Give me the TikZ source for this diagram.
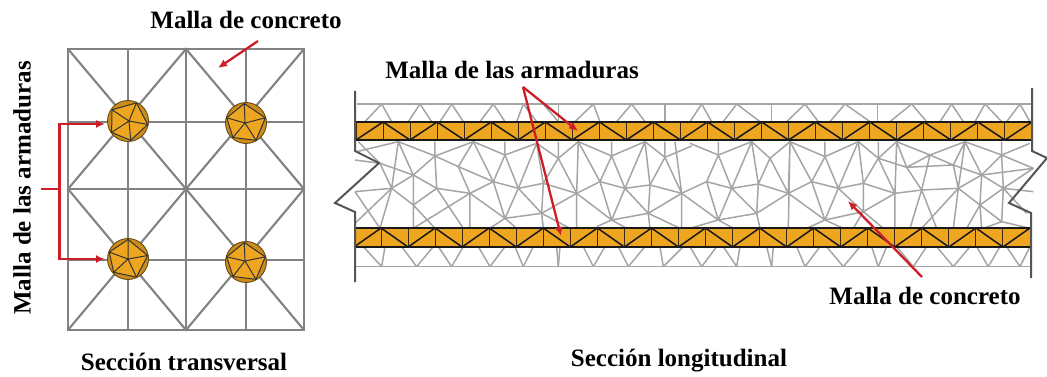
\documentclass[tikz,border=0pt]{standalone}
\usepackage{fontspec}
\setmainfont{Liberation Serif}
\usetikzlibrary{arrows.meta}
\definecolor{gridgray}{RGB}{130,130,130}
\definecolor{meshgray}{RGB}{165,165,165}
\definecolor{rebar}{RGB}{238,165,32}
\definecolor{redline}{RGB}{205,30,40}
\definecolor{wallgray}{RGB}{85,85,85}
\definecolor{trussdark}{RGB}{60,40,15}
\tikzset{
  grid line/.style={draw=gridgray,line width=2.1pt},
  mesh line/.style={draw=meshgray,line width=1.5pt,line join=round},
  wall line/.style={draw=wallgray,line width=2pt,line join=miter},
  truss vertical/.style={draw=trussdark,line width=1pt},
  truss diagonal/.style={draw=black!90,line width=1.5pt},
  red line/.style={draw=redline,line width=2.3pt},
  red arrow/.style={red line,-{Latex[length=9pt,width=8pt]}},
  caption/.style={font=\fontsize{25}{28}\selectfont\bfseries,text=black,inner sep=0pt},
}
\newcommand{\rebarcircle}[5]{%
  \begin{scope}[shift={(#1,#2)}]
    \fill[rebar!85!black,draw=black!60!rebar,line width=.8pt] (0,0) circle (20.5);
    \draw[fill=rebar,draw=black!80,line width=1pt,line join=round]
      (#3:20) -- (#3+72:19.5) -- (#3+135:20) -- (#3+205:19.5) -- (#3+285:20) -- cycle;
    \draw[black!80,line width=1pt] (#4,#5) -- (#3:20) (#4,#5) -- (#3+72:19.5) (#4,#5) -- (#3+135:20) (#4,#5) -- (#3+205:19.5) (#4,#5) -- (#3+285:20);
  \end{scope}}
\newcommand{\trussbar}[3]{% x0, ytop, ybot
  \fill[rebar] (#1,#2) rectangle (#1+676,#3);
  \foreach \k in {0,...,25}{\draw[truss vertical] (#1+\k*27.04,#2) -- (#1+\k*27.04,#3);}
  \foreach \k in {0,2,...,24}{\draw[truss diagonal] (#1+\k*27.04,#3) -- (#1+\k*27.04+27.04,#2);}
  \foreach \k in {1,3,...,23}{\draw[truss diagonal] (#1+\k*27.04,#2) -- (#1+\k*27.04+27.04,#3);}
  \draw[black!90,line width=1.5pt] (#1,#2) -- (#1+676,#2) (#1,#3) -- (#1+676,#3);}
\begin{document}
\begin{tikzpicture}[x=1pt,y=-1pt]
\useasboundingbox (0,0) rectangle (1047,377);
\fill[white] (0,0) rectangle (1047,377);
% ---- cross section grid
\draw[grid line,line width=2.6pt] (68,49) rectangle (304,330);
\draw[grid line] (128,49) -- (128,330) (186,49) -- (186,330) (246,49) -- (246,330);
\draw[grid line] (68,189) -- (304,189) (68,122) -- (304,122) (68,260) -- (304,260);
\draw[grid line] (68,49) -- (186,189) -- (304,49) (68,330) -- (186,189) -- (304,330);
\draw[grid line] (186,49) -- (68,189) -- (186,330) -- (304,189) -- cycle;
\rebarcircle{128}{121}{10}{1}{0}
\rebarcircle{246}{123}{60}{-1}{0}
\rebarcircle{128}{259}{65}{0}{0}
\rebarcircle{246}{262}{60}{-1}{-1}
% ---- long section mesh (coordinates of the two blown-up halves)
\begin{scope}[shift={(330,80)},x=.3333pt,y=-.3333pt]
\draw[mesh line,line width=1.6pt] (80,72) -- (1080,72) (75,560) -- (1080,560);
\foreach \a/\b in {155/105,155/185,270/235,270/305,365/330,365/400,490/450,490/525,580/560,580/620,685/685,790/735,790/810,905/860,905/945,1005/1005,640/685}{\draw[mesh line] (\a,72) -- (\b,125);}
\foreach \a/\b in {155/100,155/165,260/215,260/310,365/325,365/400,480/445,480/525,580/555,580/610,685/680,685/690,790/760,790/825,895/865,895/945,1000/990,1000/1060}{\draw[mesh line] (\a,560) -- (\b,500);}
\draw[mesh line] (80,215) -- (205,185) -- (315,228) -- (430,185) -- (525,225) -- (620,190) -- (685,235) -- (745,185) -- (845,228) -- (945,185) -- (1005,232) -- (1085,198);
\draw[mesh line] (75,240) -- (150,250) -- (250,285) -- (320,325) -- (420,340) -- (490,305);
\draw[mesh line] (315,228) -- (385,260) -- (490,305) -- (565,325) -- (640,310) -- (740,340) -- (810,305) -- (885,325) -- (960,315) -- (1055,340);
\draw[mesh line] (75,335) -- (185,325) -- (250,285) -- (315,228);
\draw[mesh line] (205,185) -- (185,325) (205,185) -- (250,285) (150,250) -- (185,325) (85,185) -- (150,250);
\draw[mesh line] (315,185) -- (315,228) -- (320,325) -- (250,375) -- (185,325) -- (75,430) (185,325) -- (150,445) (75,335) -- (150,445);
\draw[mesh line] (250,285) -- (250,445) (250,375) -- (315,445) (320,325) -- (400,445) (420,340) -- (250,445);
\draw[mesh line] (430,185) -- (385,260) -- (420,340) -- (420,445) (430,185) -- (490,305) -- (525,415) -- (420,340);
\draw[mesh line] (525,185) -- (525,225) -- (490,305) (525,225) -- (565,325) -- (525,415) -- (480,445) (525,415) -- (635,400) -- (740,340);
\draw[mesh line] (620,190) -- (565,325) -- (635,400) -- (640,445) (620,190) -- (640,310) -- (635,400) (525,415) -- (560,445);
\draw[mesh line] (685,185) -- (685,235) -- (640,310) (685,235) -- (740,340) (745,185) -- (740,340) -- (740,445) (635,400) -- (720,445);
\draw[mesh line] (745,185) -- (810,305) -- (845,228) -- (885,325) -- (945,185) -- (960,315) -- (955,400) (845,185) -- (845,228) (810,305) -- (845,420) -- (885,325) (740,340) -- (845,420) -- (955,400) -- (1055,340) (800,440) -- (845,420) -- (890,445) (955,400) -- (960,445) (955,400) -- (1050,445) (885,325) -- (955,400);
\draw[mesh line] (1005,185) -- (1005,232) -- (960,315) (1005,232) -- (1055,340) -- (1055,445) (1035,185) -- (1055,340);
\end{scope}
\begin{scope}[shift={(690,80)},x=.3333pt,y=-.3333pt]
\draw[mesh line,line width=1.6pt] (0,72) -- (1025,72) (0,560) -- (1025,560);
\foreach \a/\b in {35/0,35/65,140/100,140/210,245/245,345/290,345/385,465/420,465/540,562/562,665/600,665/710,785/750,785/820,885/855,885/935,990/950,990/1020}{\draw[mesh line] (\a,72) -- (\b,125);}
\foreach \a/\b in {35/0,35/80,140/100,140/150,245/230,245/250,345/320,345/390,460/410,460/510,565/545,565/590,670/620,670/710,790/740,790/840,895/860,895/930,990/950,990/1020}{\draw[mesh line] (\a,560) -- (\b,500);}
\draw[mesh line] (0,190) -- (85,225) -- (185,185) -- (240,235) -- (300,185) -- (405,230) -- (505,185) -- (565,235) -- (620,185) -- (720,225) -- (825,185) -- (935,225) -- (1020,190);
\draw[mesh line] (-25,340) -- (50,305) -- (125,325) -- (205,312) -- (295,340) -- (365,305) -- (445,325) -- (520,310) -- (615,340) -- (695,330) -- (805,325) -- (875,285);
\draw[mesh line] (85,185) -- (85,225) -- (50,305) -- (85,420) -- (125,325) -- (185,185) -- (205,312) -- (200,400) (85,225) -- (125,325) -- (200,400) -- (295,340) (240,235) -- (205,312) (240,235) -- (295,340) -- (300,185) -- (295,445) (85,420) -- (200,400) -- (295,340) (-25,340) -- (85,420) (85,420) -- (0,445) (85,420) -- (130,445) (200,400) -- (210,445);
\draw[mesh line] (300,185) -- (365,305) -- (405,230) -- (445,325) -- (505,185) -- (520,310) -- (520,395) (405,185) -- (405,230) (365,305) -- (405,420) -- (445,325) (295,340) -- (405,420) -- (520,395) -- (615,340) (350,445) -- (405,420) -- (460,445) (565,185) -- (565,235) -- (520,310) (520,395) -- (490,445) (520,395) -- (580,445) (445,325) -- (520,395);
\draw[mesh line] (565,235) -- (650,262) -- (790,255) -- (875,285) -- (1030,265) (565,235) -- (615,340) -- (620,185) (615,340) -- (615,445) (620,185) -- (650,262) -- (695,330) -- (720,225) -- (650,262) (720,225) -- (790,255) -- (805,325) -- (825,185) (790,255) -- (825,185) (825,185) -- (875,285) -- (870,375) -- (805,325) -- (790,445) (695,330) -- (740,445) (695,330) -- (660,445) (805,325) -- (695,445);
\draw[mesh line] (935,185) -- (935,225) -- (875,285) -- (940,325) -- (935,225) -- (1030,265) -- (940,325) -- (1030,335) (870,375) -- (875,445) (870,375) -- (940,325) -- (935,425) -- (870,375) (870,375) -- (830,445) (940,325) -- (1010,400) (935,425) -- (1020,445) (935,425) -- (880,445);
\end{scope}
% ---- truss bars
\trussbar{356}{122}{140}
\trussbar{354}{228}{247}
% ---- walls
\draw[wall line] (355,91) -- (355,151) -- (379,163) -- (335,203) -- (355,212) -- (355,282);
\draw[wall line] (1032,88) -- (1032,151) -- (1047,158) -- (1009,203) -- (1031,213) -- (1031,278);
% ---- captions
\node[caption] (t1) at (246,20) {Malla de concreto};
\node[caption] (t2) at (512,70) {Malla de las armaduras};
\node[caption] (t3) at (925,296) {Malla de concreto};
\node[caption] (t4) at (184,362) {Sección transversal};
\node[caption] (t5) at (679,361) {Sección longitudinal};
\node[caption,rotate=90] (t6) at (22,188) {Malla de las armaduras};
% ---- red arrows
\coordinate (f1) at (59.5,189);
\coordinate (c1) at (105,124);
\coordinate (c2) at (105,259);
\draw[red line] (41,189) -- (f1);
\draw[red arrow] (f1) |- (c1);
\draw[red arrow] (f1) |- (c2);
\coordinate (a1) at (258,41);
\coordinate (a2) at (218,68);
\draw[red arrow] (a1) -- (a2);
\coordinate (h) at (523,87);
\coordinate (b1) at (578,131);
\coordinate (b2) at (561,236);
\draw[red arrow] (h) -- (b1);
\draw[red arrow] (h) -- (b2);
\coordinate (m1) at (922,277);
\coordinate (m2) at (848,201);
\draw[red arrow] (m1) -- (m2);
\end{tikzpicture}
\end{document}
